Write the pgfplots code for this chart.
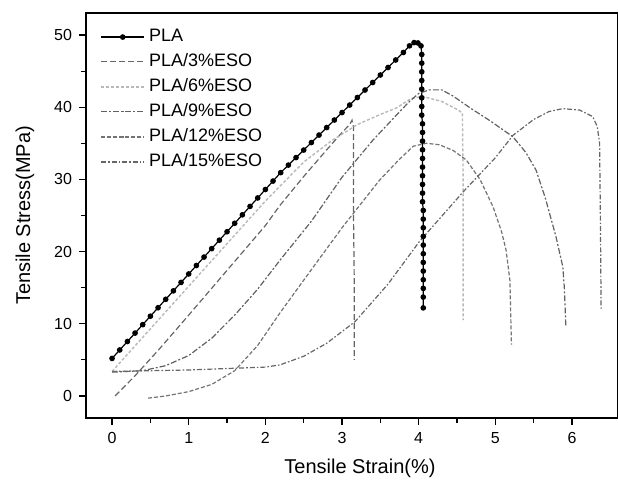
\documentclass[border=0pt]{standalone}
\usepackage{pgfplots}
\pgfplotsset{compat=1.18}
\usepackage{fontspec}
\setmainfont{Liberation Sans}
\usetikzlibrary{calc}
\begin{document}
\begin{tikzpicture}
\begin{axis}[
  name=ax,
  scale only axis,
  width=266pt, height=202.5pt,
  xmin=-0.34, xmax=6.6,
  ymin=-3.05, ymax=53.05,
  xtick={0,1,2,3,4,5,6},
  ytick={0,10,20,30,40,50},
  minor x tick num=1,
  minor y tick num=1,
  xtick pos=bottom, ytick pos=left,
  tick align=outside,
  major tick length=3.5pt,
  minor tick length=2.5pt,
  axis line style={line width=0.75pt},
  every tick/.style={black, line width=0.6pt},
  /pgf/number format/assume math mode=true,
  tick label style={font=\fontsize{8}{9}\selectfont},
  label style={font=\fontsize{9.5}{11}\selectfont},
  xlabel={Tensile Strain(\%)},
  ylabel={Tensile Stress(MPa)},
  every axis x label/.style={at={(axis description cs:0.515,-0.1235)}, anchor=center},
  every axis y label/.style={at={(axis description cs:-0.1147,0.5)}, rotate=90, anchor=center},
  legend style={at={(axis description cs:0,1)}, anchor=north west, xshift=4pt, yshift=-4pt,
    draw=none, fill=none, font=\fontsize{9}{10}\selectfont, row sep=0.5pt},
  legend cell align=left,
  legend image code/.code={\draw[#1, mark repeat=2, mark phase=2] plot coordinates {(0cm,0cm) (0.38cm,0cm) (0.76cm,0cm)};},
]
% PLA
\addplot[black, line width=0.6pt, mark=*, mark size=1.1pt] coordinates {
(0,5.2)(0.1,6.37)(0.2,7.54)(0.3,8.71)(0.4,9.88)(0.5,11.05)(0.6,12.22)(0.7,13.39)(0.8,14.56)(0.9,15.73)
(1.0,16.9)(1.1,18.07)(1.2,19.24)(1.3,20.41)(1.4,21.58)(1.5,22.75)(1.6,23.92)(1.7,25.09)(1.8,26.26)(1.9,27.43)
(2.0,28.6)(2.1,29.77)(2.2,30.94)(2.3,31.98)(2.4,33.02)(2.5,34.06)(2.6,35.1)(2.7,36.14)(2.8,37.18)(2.9,38.22)
(3.0,39.26)(3.1,40.3)(3.2,41.34)(3.3,42.38)(3.4,43.42)(3.5,44.46)(3.6,45.5)(3.7,46.54)(3.8,47.58)(3.88,48.5)
(3.94,48.95)(3.99,48.9)(4.03,48.5)(4.04,47.3)(4.04,46.1)(4.04,44.9)(4.04,43.7)(4.04,42.5)(4.04,41.3)(4.04,40.1)
(4.04,38.9)(4.05,37.7)(4.05,36.5)(4.05,35.3)(4.05,34.1)(4.05,32.9)(4.05,31.7)(4.05,30.5)(4.05,29.3)(4.05,28.1)
(4.05,26.9)(4.06,25.7)(4.06,24.5)(4.06,23.3)(4.06,22.1)(4.06,20.9)(4.06,19.7)(4.06,18.5)(4.06,17.3)(4.06,16.1)
(4.06,14.9)(4.06,13.7)(4.06,12.2)
};
\addlegendentry{PLA}
% PLA/3%ESO
\addplot[black!60, line width=0.6pt, dash pattern=on 3pt off 1.5pt] coordinates {
(0.04,0)(0.3,2.8)(0.6,6.3)(1.0,11.2)(1.5,17.4)(2.0,23.6)(2.19,26.4)(2.5,30.4)(2.8,34.1)(3.0,36.5)(3.1,37.6)(3.13,38.2)
(3.15,37.2)(3.15,25)(3.16,15)(3.16,5)
};
\addlegendentry{PLA/3\%ESO}
% PLA/6%ESO
\addplot[black!28, line width=0.7pt, dash pattern=on 1.5pt off 1pt] coordinates {
(0,3.4)(0.5,9.3)(1.0,15.2)(1.5,21.1)(2.0,27.0)(2.5,32.4)(2.87,35.4)(3.2,37.6)(3.5,39.0)(3.71,39.9)(3.9,41.2)
(4.05,41.5)(4.3,40.8)(4.5,39.7)(4.57,39.2)(4.58,30)(4.58,20)(4.58,10.5)
};
\addlegendentry{PLA/6\%ESO}
% PLA/9%ESO
\addplot[black!62, line width=0.6pt, dash pattern=on 3pt off 1pt on 1pt off 1pt] coordinates {
(0,3.3)(0.4,3.5)(0.7,4.2)(1.0,5.6)(1.3,8.0)(1.6,11.2)(1.9,14.8)(2.19,18.8)(2.6,24.2)(3.0,30.3)(3.4,35.4)
(3.7,38.8)(3.88,40.8)(4.0,41.9)(4.14,42.4)(4.3,42.4)(4.44,41.6)(4.7,39.7)(4.92,38.2)(5.23,35.9)(5.4,33.7)
(5.53,31.3)(5.65,27.5)(5.79,22.1)(5.88,17.9)(5.9,15)(5.92,9.6)
};
\addlegendentry{PLA/9\%ESO}
% PLA/12%ESO
\addplot[black!55, line width=0.6pt, dash pattern=on 2pt off 1pt] coordinates {
(0.47,-0.3)(0.7,0)(1.0,0.6)(1.3,1.6)(1.6,3.5)(1.9,7.0)(2.19,11.5)(2.6,17.5)(3.0,23.3)(3.49,29.9)(3.75,32.8)
(3.93,34.6)(4.1,35.0)(4.27,34.8)(4.45,34.0)(4.62,32.7)(4.8,30.0)(4.97,26.2)(5.08,22.8)(5.14,20.2)(5.19,16.0)(5.21,7.1)
};
\addlegendentry{PLA/12\%ESO}
% PLA/15%ESO
\addplot[black!60, line width=0.6pt, dash pattern=on 2.5pt off 1pt on 0.8pt off 1pt] coordinates {
(0,3.4)(0.5,3.5)(1.0,3.6)(1.5,3.8)(2.0,4.0)(2.19,4.3)(2.5,5.5)(2.8,7.3)(3.17,10.3)(3.6,15.5)(4.01,21.4)
(4.6,28.5)(5.0,33.0)(5.23,36.1)(5.5,38.3)(5.7,39.4)(5.88,39.8)(6.1,39.6)(6.27,38.7)(6.33,37.3)(6.36,35)(6.37,25)(6.38,11.9)
};
\addlegendentry{PLA/15\%ESO}
\end{axis}
\pgfresetboundingbox
\path[use as bounding box] ($(ax.south west)+(-43pt,-31pt)$) rectangle ($(ax.north east)+(0pt,6.5pt)$);
\end{tikzpicture}
\end{document}
